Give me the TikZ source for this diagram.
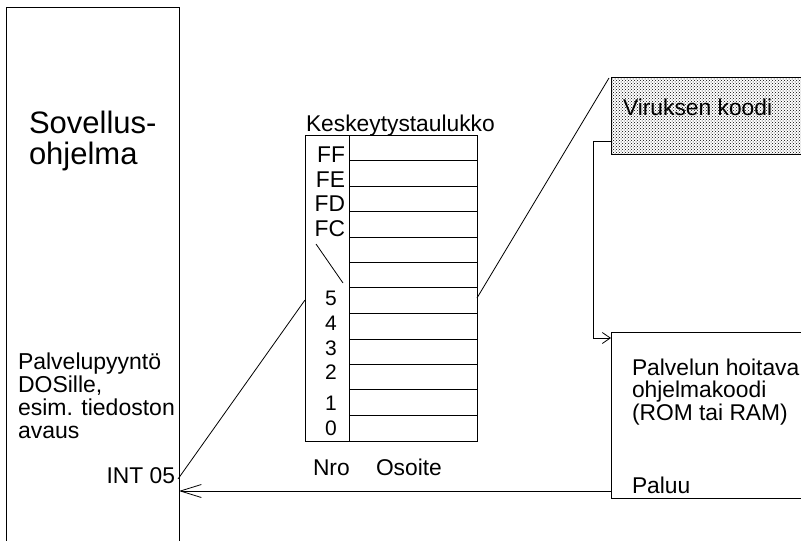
\documentclass[tikz,border=0pt]{standalone}
\usepackage{fontspec}
\setmainfont{Liberation Sans}
\usetikzlibrary{arrows.meta,patterns}
\begin{document}
\begin{tikzpicture}[x=1pt,y=-1pt,line width=0.8pt,
  txt/.style={inner sep=0pt,outer sep=0pt,align=left,font=\fontsize{22.8}{22.5}\selectfont},
  big/.style={inner sep=0pt,outer sep=0pt,align=left,font=\fontsize{31}{31}\selectfont},
  num/.style={inner sep=0pt,outer sep=0pt,font=\fontsize{21}{21}\selectfont},
  retarrow/.style={-{Straight Barb[length=21pt,width=13pt,line width=0.8pt]}},
  inarrow/.style={-{Straight Barb[length=8pt,width=11pt,line width=0.8pt]}}]
\useasboundingbox (0,0) rectangle (801,541);
\clip (0,0) rectangle (801,541);

% application program box (open at bottom)
\draw (6,545) -- (6,7) -- (179,7) -- (179,545);
\node[big,anchor=base west] (app) at (29,164) {Sovellus-\\ohjelma};
\node[txt,anchor=base west,font=\fontsize{23}{23}\selectfont] (req) at (18,438) {Palvelupyyntö\\DOSille,\\esim. tiedoston\\avaus};
\node[txt,anchor=base east] (int) at (175,483) {INT 05};
\coordinate (intpt) at (178,479);
\coordinate (intret) at (179,491);

% interrupt table
\node[txt,anchor=base west] (title) at (306,131) {Keskeytystaulukko};
\node[draw,inner sep=0pt,outer sep=0pt,anchor=north west,minimum width=44pt,minimum height=306pt] (nrocol) at (305,135) {};
\node[draw,inner sep=0pt,outer sep=0pt,anchor=north west,minimum width=128pt,minimum height=306pt] (addrcol) at (349,135) {};
\foreach \yy in {160,186,211,237,262,287,313,339,364,389,415}
  \draw (349,\yy) -- (477,\yy);
\node[txt,anchor=base east] (ff) at (345,162) {FF};
\node[txt,anchor=base east] (fe) at (345,187) {FE};
\node[txt,anchor=base east] (fd) at (345,211) {FD};
\node[txt,anchor=base east] (fc) at (345,236) {FC};
\coordinate (sla) at (316,244);
\coordinate (slb) at (343,283);
\draw (sla) -- (slb);
\node[num,anchor=base] (n5) at (331,305) {5};
\node[num,anchor=base] (n4) at (331,330) {4};
\node[num,anchor=base] (n3) at (331,355) {3};
\node[num,anchor=base] (n2) at (331,379) {2};
\node[num,anchor=base] (n1) at (331,410) {1};
\node[num,anchor=base] (n0) at (331,435) {0};
\node[txt,anchor=base west] (nro) at (313,475) {Nro};
\node[txt,anchor=base west] (oso) at (376,475) {Osoite};
\coordinate (nro5) at (305,300);
\coordinate (addr5) at (477,298);

% virus code box
\fill[pattern=crosshatch dots,pattern color=black] (611,77) rectangle (805,154);
\draw (805,77) -- (611,77) -- (611,154) -- (805,154);
\coordinate (vircorner) at (609,78);
\coordinate (virout) at (611,141);
\node[txt,anchor=base west] (vir) at (623,115) {Viruksen koodi};

% service routine box
\draw (805,332) -- (611,332) -- (611,498) -- (805,498);
\coordinate (servin) at (611,338);
\coordinate (servret) at (611,491);
\node[txt,anchor=base west] (serv) at (632,420) {Palvelun hoitava\\ohjelmakoodi\\(ROM tai RAM)};
\node[txt,anchor=base west] (paluu) at (632,493) {Paluu};

% connectors
\draw (intpt) -- (nro5);
\draw (addr5) -- (vircorner);
\draw[inarrow] (virout) -- ++(-18,0) |- (servin);
\draw[retarrow] (servret) -- (intret);
\end{tikzpicture}
\end{document}
